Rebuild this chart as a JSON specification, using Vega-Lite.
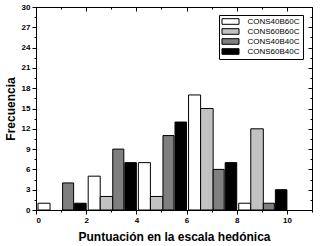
{
  "$schema": "https://vega.github.io/schema/vega-lite/v6.json",
  "width": 276,
  "height": 203,
  "autosize": {"type": "none"},
  "padding": {"left": 36, "top": 7, "right": 8, "bottom": 36},
  "background": "white",
  "config": {"view": {"stroke": null}, "font": "Liberation Sans"},
  "data": {"values": [
    {"series": "CONS40B60C", "x0": 0.08, "x1": 0.56, "count": 1},
    {"series": "CONS40B60C", "x0": 2.08, "x1": 2.56, "count": 5},
    {"series": "CONS40B60C", "x0": 4.08, "x1": 4.56, "count": 7},
    {"series": "CONS40B60C", "x0": 6.08, "x1": 6.56, "count": 17},
    {"series": "CONS40B60C", "x0": 8.08, "x1": 8.56, "count": 1},
    {"series": "CONS60B60C", "x0": 2.56, "x1": 3.06, "count": 2},
    {"series": "CONS60B60C", "x0": 4.56, "x1": 5.06, "count": 2},
    {"series": "CONS60B60C", "x0": 6.56, "x1": 7.06, "count": 15},
    {"series": "CONS60B60C", "x0": 8.56, "x1": 9.06, "count": 12},
    {"series": "CONS40B40C", "x0": 1.06, "x1": 1.5, "count": 4},
    {"series": "CONS40B40C", "x0": 3.06, "x1": 3.5, "count": 9},
    {"series": "CONS40B40C", "x0": 5.06, "x1": 5.5, "count": 11},
    {"series": "CONS40B40C", "x0": 7.06, "x1": 7.5, "count": 6},
    {"series": "CONS40B40C", "x0": 9.06, "x1": 9.5, "count": 1},
    {"series": "CONS60B40C", "x0": 1.54, "x1": 2.0, "count": 1},
    {"series": "CONS60B40C", "x0": 3.54, "x1": 4.0, "count": 7},
    {"series": "CONS60B40C", "x0": 5.54, "x1": 6.0, "count": 13},
    {"series": "CONS60B40C", "x0": 7.54, "x1": 8.0, "count": 7},
    {"series": "CONS60B40C", "x0": 9.54, "x1": 10.0, "count": 3}
  ]},
  "layer": [
    {
      "mark": {"type": "bar", "stroke": "black", "strokeWidth": 1},
      "encoding": {
        "x": {
          "field": "x0", "type": "quantitative",
          "scale": {"domain": [0, 11], "nice": false, "zero": false},
          "axis": {
            "orient": "bottom",
            "values": [0, 1, 2, 3, 4, 5, 6, 7, 8, 9, 10, 11],
            "labelExpr": "datum.value % 2 === 0 && datum.value <= 10 ? datum.label : ''",
            "tickSize": {"condition": {"test": "datum.value % 2 === 0", "value": 4}, "value": 2},
            "domainColor": "black", "tickColor": "black", "grid": false,
            "labelFontWeight": "bold", "labelFontSize": 8, "labelColor": "black", "labelPadding": 2,
            "title": "Puntuación en la escala hedónica",
            "titleFontSize": 12, "titleFontWeight": "bold", "titleColor": "black", "titlePadding": 7
          }
        },
        "x2": {"field": "x1"},
        "y": {
          "field": "count", "type": "quantitative",
          "scale": {"domain": [0, 30], "nice": false},
          "axis": {
            "orient": "left",
            "values": [0, 1.5, 3, 4.5, 6, 7.5, 9, 10.5, 12, 13.5, 15, 16.5, 18, 19.5, 21, 22.5, 24, 25.5, 27, 28.5, 30],
            "labelExpr": "datum.value % 3 === 0 ? datum.label : ''",
            "tickSize": {"condition": {"test": "datum.value % 3 === 0", "value": 4}, "value": 2},
            "domainColor": "black", "tickColor": "black", "grid": false,
            "labelFontWeight": "bold", "labelFontSize": 8, "labelColor": "black", "labelPadding": 2,
            "title": "Frecuencia",
            "titleFontSize": 12, "titleFontWeight": "bold", "titleColor": "black", "titlePadding": 4
          }
        },
        "y2": {"datum": 0},
        "fill": {
          "field": "series", "type": "nominal",
          "scale": {
            "domain": ["CONS40B60C", "CONS60B60C", "CONS40B40C", "CONS60B40C"],
            "range": ["#ffffff", "#c2c2c2", "#7f7f7f", "#000000"]
          },
          "legend": {
            "title": null, "orient": "none", "legendX": 183, "legendY": 8,
            "strokeColor": "black", "padding": 2.5,
            "symbolType": "M-2.43,-0.8 L2.43,-0.8 L2.43,0.8 L-2.43,0.8 Z",
            "symbolSize": 49, "symbolStrokeColor": "black", "symbolStrokeWidth": 1,
            "symbolOpacity": 1, "symbolOffset": 5,
            "labelFontSize": 8, "labelColor": "black", "labelOffset": 13, "rowPadding": 0
          }
        }
      }
    },
    {
      "mark": {"type": "bar", "opacity": 0},
      "encoding": {
        "x": {
          "field": "x0", "type": "quantitative",
          "axis": {
            "orient": "top", "values": [0, 1, 2, 3, 4, 5, 6, 7, 8, 9, 10, 11],
            "labels": false, "title": null, "grid": false,
            "tickSize": {"condition": {"test": "datum.value % 2 === 0", "value": -4}, "value": -2},
            "domainColor": "black", "tickColor": "black"
          }
        },
        "x2": {"field": "x1"},
        "y": {
          "field": "count", "type": "quantitative",
          "axis": {
            "orient": "right",
            "values": [0, 1.5, 3, 4.5, 6, 7.5, 9, 10.5, 12, 13.5, 15, 16.5, 18, 19.5, 21, 22.5, 24, 25.5, 27, 28.5, 30],
            "labels": false, "title": null, "grid": false,
            "tickSize": {"condition": {"test": "datum.value % 3 === 0", "value": -4}, "value": -2},
            "domainColor": "black", "tickColor": "black"
          }
        },
        "y2": {"datum": 0}
      }
    }
  ],
  "resolve": {"axis": {"x": "independent", "y": "independent"}}
}
